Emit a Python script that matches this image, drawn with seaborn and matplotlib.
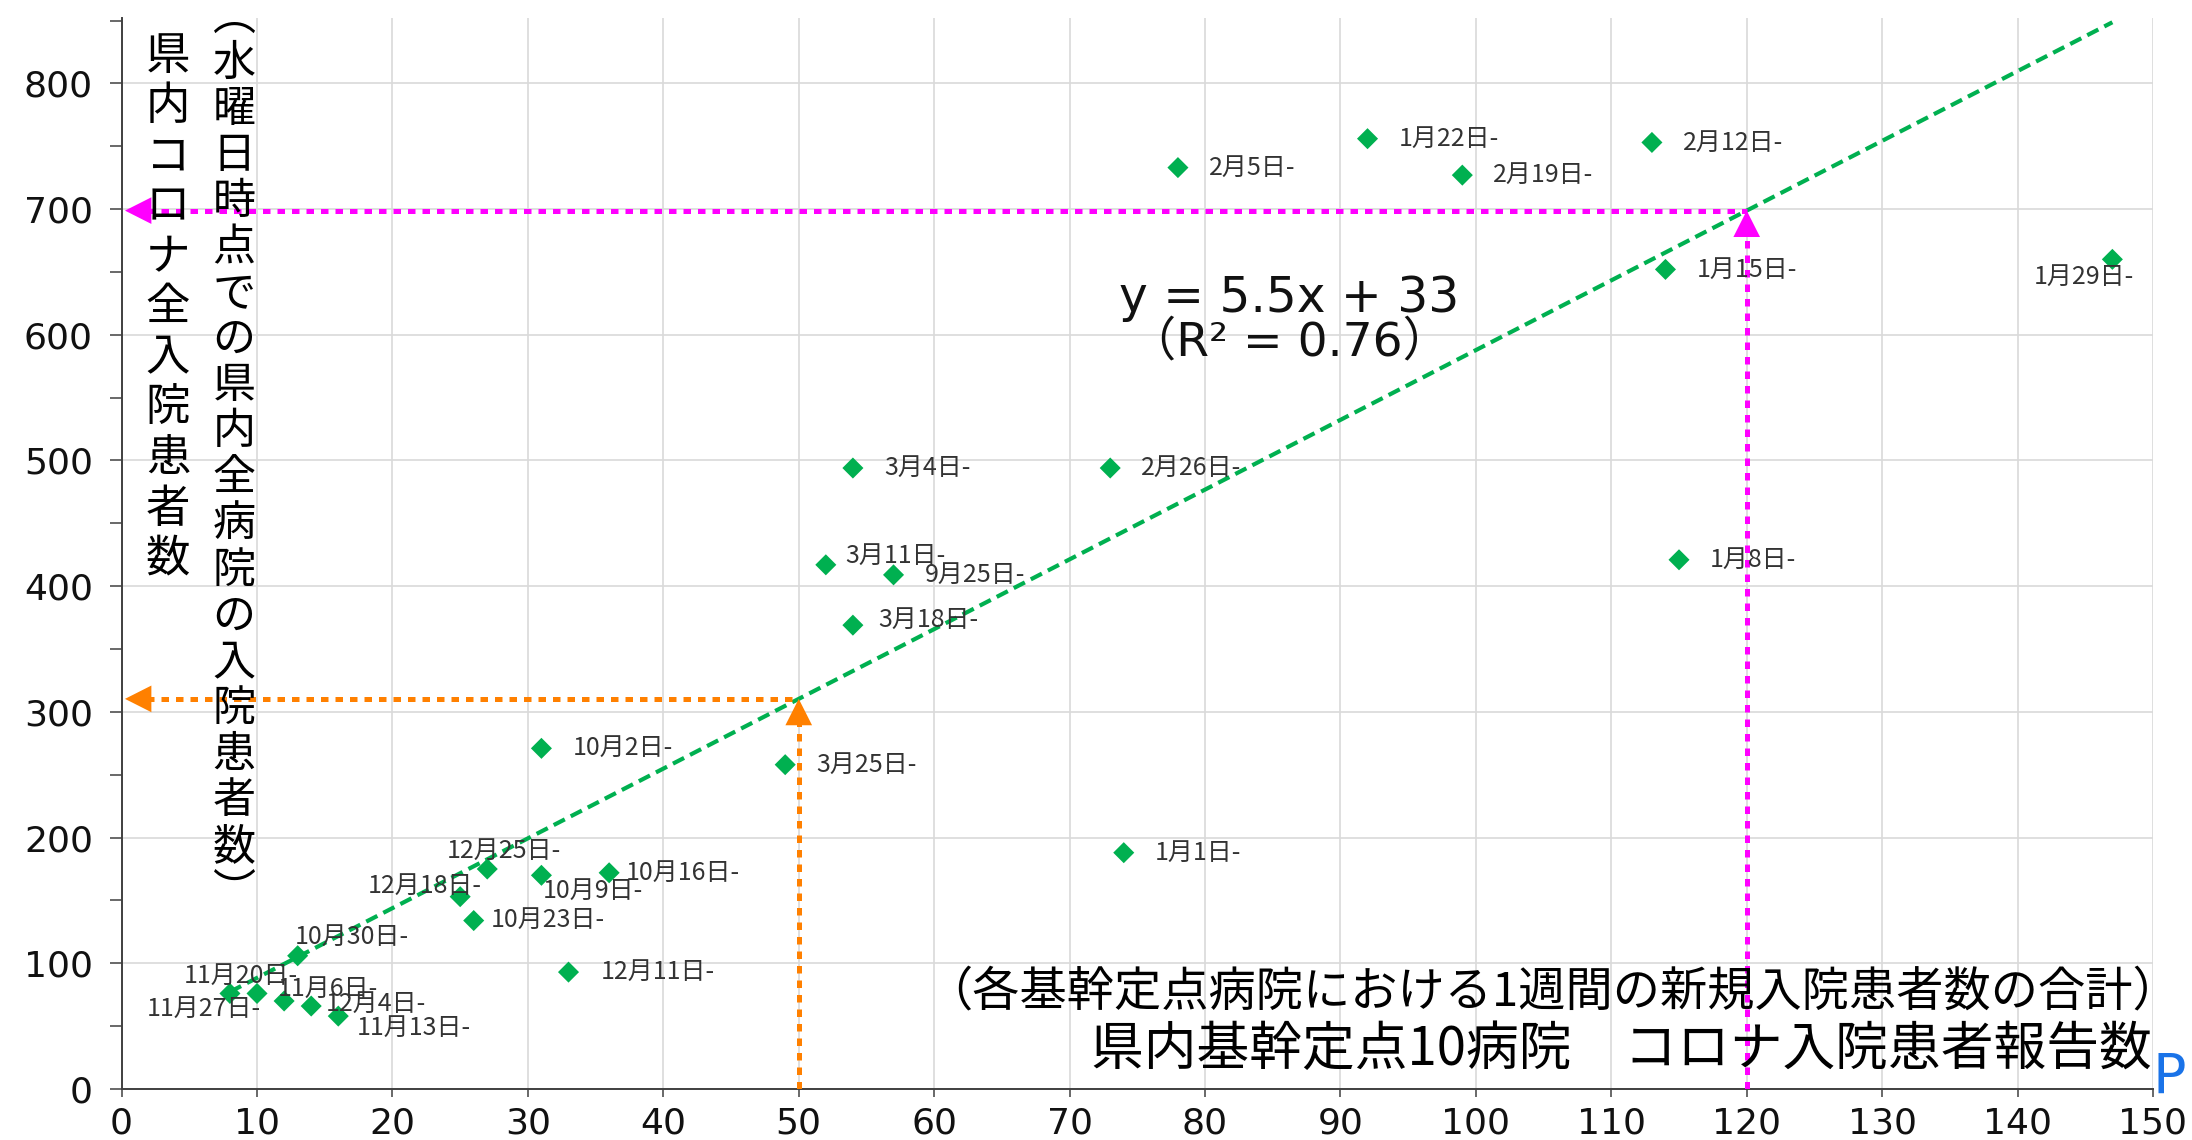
import numpy as np
import pandas as pd
import matplotlib
matplotlib.use("Agg")
import matplotlib.pyplot as plt
import seaborn as sns

# 週ごとのデータ（基幹定点10病院の報告数 vs 県内全病院の入院患者数）
week_labels = ["9月25日-", "10月2日-", "10月9日-", "10月16日-", "10月23日-", "10月30日-",
               "11月6日-", "11月13日-", "11月20日-", "11月27日-", "12月4日-", "12月11日-",
               "12月18日-", "12月25日-", "1月1日-", "1月8日-", "1月15日-", "1月22日-",
               "1月29日-", "2月5日-", "2月12日-", "2月19日-", "2月26日-", "3月4日-",
               "3月11日-", "3月18日-", "3月25日-"]
reported = [57, 31, 31, 36, 26, 13, 10, 16, 8, 12, 14, 33, 25, 27, 74, 115, 114, 92,
            147, 78, 113, 99, 73, 54, 52, 54, 49]
inpatients = [409, 271, 170, 172, 134, 106, 76, 58, 76, 70, 66, 93, 153, 175, 188, 421,
              652, 756, 660, 733, 753, 727, 494, 494, 417, 369, 258]

x_ticks = list(range(0, 151, 10))
y_ticks = list(range(0, 801, 100))
eq_text = "y = 5.5x + 33"
r2_text = "（R² = 0.76）"
y_title_1 = "県内コロナ全入院患者数"
y_title_2 = "︵水曜日時点での県内全病院の入院患者数︶"
x_title_1 = "（各基幹定点病院における1週間の新規入院患者数の合計）"
x_title_2 = "県内基幹定点10病院　コロナ入院患者報告数"
arrow_x = [50, 120]

# ラベルの位置ずらし（ピクセル, 右/下が正）
label_offsets = {
    "12月25日-": (-41, -18), "12月18日-": (-92, -11), "10月16日-": (17, 0),
    "10月9日-": (1, 16), "10月23日-": (17, -1), "10月30日-": (-3, -19),
    "12月11日-": (32, 0), "11月20日-": (-46, -18), "11月6日-": (21, -5),
    "12月4日-": (15, -2), "11月27日-": (-137, 8), "11月13日-": (18, 12),
    "3月11日-": (19, -9), "3月18日-": (25, -5), "1月29日-": (-79, 18),
}

df = pd.DataFrame({"week": week_labels, "reported": reported, "inpatients": inpatients})

W, H = 2192, 1140
green = "#00b050"
orange = "#ff8000"
magenta = "#ff00ff"

sns.set_theme(style="whitegrid")
plt.rcParams["font.family"] = ["Noto Sans CJK JP", "DejaVu Sans"]

fig = plt.figure(figsize=(W / 100, H / 100), dpi=100)
fig.patch.set_facecolor("white")
ax = fig.add_axes([121.6 / W, 1 - 1089 / H, (2153 - 121.6) / W, (1089 - 18) / H])
ax.set_facecolor("white")

sns.regplot(data=df, x="reported", y="inpatients", scatter=False, ci=None, ax=ax,
            line_kws=dict(color=green, lw=3.0, ls=(0, (3, 1.6)), zorder=3))
sns.scatterplot(data=df, x="reported", y="inpatients", marker="D", s=115, color=green,
                edgecolor="none", ax=ax, zorder=5)

slope, intercept = np.polyfit(df["reported"], df["inpatients"], 1)

ax.set_xlim(0, 150)
ax.set_ylim(0, 852)
ax.set_xticks(x_ticks)
ax.set_yticks(y_ticks)
ax.set_yticks(list(range(50, 851, 100)), minor=True)
ax.set_xlabel("")
ax.set_ylabel("")
ax.set_axisbelow(True)
ax.grid(True, which="major", color="#d9d9d9", lw=1.2)
ax.grid(False, which="minor")

for side in ["top", "right"]:
    ax.spines[side].set_visible(False)
for side in ["left", "bottom"]:
    ax.spines[side].set_visible(True)
    ax.spines[side].set_color("#404040")
    ax.spines[side].set_linewidth(1.4)

ax.tick_params(axis="y", which="both", direction="out", length=8.6, width=1.1,
               color="#404040", left=True, pad=12, labelsize=26,
               labelfontfamily="DejaVu Sans", labelcolor="#111111")
ax.tick_params(axis="x", which="major", direction="out", length=5.5, width=1.1,
               color="#404040", bottom=True, pad=7, labelsize=26,
               labelfontfamily="DejaVu Sans", labelcolor="#111111")

# データラベル
for lbl, xv, yv in zip(df["week"], df["reported"], df["inpatients"]):
    dx, dy = label_offsets.get(lbl, (31, 0))
    ax.annotate(lbl, (xv, yv), xytext=(dx, -dy), textcoords="offset pixels",
                ha="left", va="center", fontsize=18, color="#333333", zorder=6)

# 矢印（回帰直線からの読み取り）
dots = (0, (1.5, 1.4))
for xa, col in zip(arrow_x, [orange, magenta]):
    ya = slope * xa + intercept
    ax.plot([0.8, xa], [ya, ya], color=col, lw=3.6, ls=dots, zorder=4)
    ax.plot([xa, xa], [0, ya - 12], color=col, lw=3.6, ls=dots, zorder=4)
    head = dict(arrowstyle="-|>,head_length=0.95,head_width=0.48", color=col, lw=0,
                shrinkA=0, shrinkB=0, mutation_scale=20)
    ax.annotate("", xy=(0.25, ya), xytext=(40, 0), textcoords="offset pixels",
                arrowprops=head, zorder=6)
    ax.annotate("", xy=(xa, ya), xytext=(0, -40), textcoords="offset pixels",
                arrowprops=head, zorder=6)

# 回帰式
fig.text(1289 / W, 1 - 298 / H, eq_text, ha="center", va="center", fontsize=35,
         family=["DejaVu Sans", "Noto Sans CJK JP"], color="#111111")
fig.text(1289 / W, 1 - 343 / H, r2_text, ha="center", va="center", fontsize=34,
         family=["DejaVu Sans", "Noto Sans CJK JP"], color="#111111")

# 縦書きの軸タイトル
def vertical_text(chars, xc, yc0, pitch, size):
    em = size / 72 * 100
    for i, ch in enumerate(chars):
        yb = yc0 + i * pitch + 0.38 * em
        fig.text(xc / W, 1 - yb / H, ch, ha="center", va="baseline", fontsize=size,
                 color="black")

vertical_text(y_title_1, 168, 52, 50.3, 32)
vertical_text(y_title_2, 234, 13, 46.1, 31)

# 横軸タイトル
fig.text(2180 / W, 1 - 992 / H, x_title_1, ha="right", va="center", fontsize=34, color="black")
fig.text(2152 / W, 1 - 1050 / H, x_title_2, ha="right", va="center", fontsize=38, color="black")
fig.text(2152 / W, 1 - 1093 / H, "P", ha="left", va="baseline", fontsize=40,
         family="DejaVu Sans", color="#1a73e8")

fig.savefig("out.png", dpi=100, facecolor="white")
